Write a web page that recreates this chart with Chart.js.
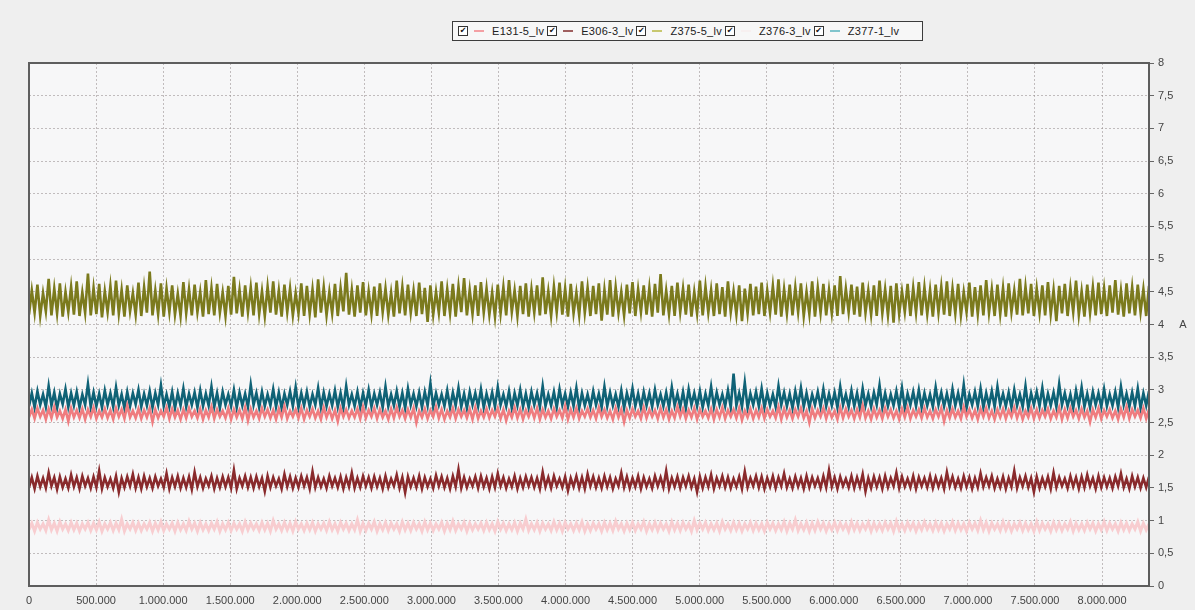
<!DOCTYPE html>
<html><head><meta charset="utf-8">
<script src="https://cdn.jsdelivr.net/npm/chart.js@4/dist/chart.umd.min.js"></script>
<style>
html,body{margin:0;padding:0;background:#efefef;}
#wrap{position:relative;width:1195px;height:610px;overflow:hidden;}
#c{position:absolute;left:0;top:0;}
#legend{position:absolute;left:452px;top:21px;width:464px;height:18px;border:1px solid #3c3c3c;background:#f7f7f7;font:11px "Liberation Sans",Arial,sans-serif;color:#222;display:flex;align-items:center;padding-left:5px;box-sizing:content-box;}
.item{display:flex;align-items:center;margin-right:3px;}
.cb{width:8px;height:8px;border:1px solid #333;background:#fff;font:8px "DejaVu Sans",sans-serif;line-height:8px;text-align:center;color:#111;margin-right:6px;}
.ln{width:10px;height:2px;margin-right:8px;}
.tx{letter-spacing:0.3px;white-space:nowrap;}
</style></head>
<body><div id="wrap"><canvas id="c" width="1195" height="610"></canvas><div id="legend"></div></div>
<script>
// ---- DATA ----
const seriesNames = ['E131-5_lv','E306-3_lv','Z375-5_lv','Z376-3_lv','Z377-1_lv'];
const xMax = 8350000;
const xTickStep = 500000;
const xLastTick = 8000000;
const yMax = 8;
const yTickStep = 0.5;

const e131_5 = [
2.58,2.70,2.56,2.72,2.59,2.69,2.55,2.71,2.57,2.74,2.58,2.68,2.56,2.70,2.52,2.72,2.58,2.69,2.57,2.71,
2.55,2.70,2.59,2.73,2.56,2.68,2.58,2.71,2.57,2.69,2.55,2.72,2.59,2.70,2.56,2.76,2.58,2.68,2.57,2.71,
2.56,2.69,2.58,2.72,2.51,2.70,2.57,2.68,2.59,2.73,2.56,2.71,2.58,2.69,2.55,2.70,2.57,2.72,2.59,2.68,
2.57,2.71,2.55,2.69,2.58,2.74,2.56,2.70,2.59,2.68,2.57,2.72,2.55,2.70,2.58,2.69,2.56,2.73,2.53,2.71,
2.58,2.68,2.56,2.72,2.59,2.70,2.57,2.69,2.55,2.71,2.58,2.75,2.56,2.68,2.59,2.70,2.57,2.72,2.55,2.69,
2.59,2.71,2.57,2.68,2.55,2.73,2.58,2.70,2.56,2.69,2.52,2.72,2.59,2.70,2.57,2.68,2.58,2.71,2.56,2.74,
2.57,2.69,2.59,2.72,2.56,2.70,2.58,2.68,2.55,2.71,2.57,2.73,2.59,2.69,2.56,2.70,2.58,2.72,2.50,2.68,
2.58,2.71,2.56,2.69,2.59,2.74,2.57,2.70,2.55,2.68,2.58,2.72,2.56,2.70,2.59,2.69,2.57,2.71,2.55,2.73,
2.56,2.68,2.58,2.71,2.57,2.69,2.59,2.72,2.56,2.70,2.53,2.68,2.58,2.73,2.57,2.70,2.55,2.69,2.59,2.71,
2.57,2.72,2.55,2.70,2.58,2.68,2.56,2.71,2.59,2.69,2.57,2.75,2.55,2.70,2.58,2.72,2.56,2.68,2.59,2.71,
2.58,2.69,2.56,2.73,2.59,2.70,2.57,2.68,2.55,2.72,2.58,2.70,2.51,2.69,2.57,2.71,2.59,2.68,2.56,2.73,
2.57,2.70,2.59,2.69,2.56,2.72,2.58,2.70,2.55,2.68,2.57,2.74,2.59,2.71,2.56,2.69,2.58,2.72,2.55,2.70,
2.59,2.68,2.57,2.71,2.55,2.70,2.58,2.73,2.56,2.69,2.59,2.70,2.57,2.72,2.54,2.68,2.58,2.71,2.56,2.69,
2.58,2.72,2.56,2.70,2.59,2.68,2.57,2.74,2.55,2.71,2.58,2.69,2.56,2.70,2.59,2.72,2.57,2.68,2.50,2.71,
2.57,2.69,2.59,2.72,2.56,2.70,2.58,2.68,2.55,2.73,2.57,2.71,2.59,2.69,2.56,2.70,2.58,2.76,2.57,2.68,
2.55,2.71,2.58,2.69,2.56,2.72,2.59,2.70,2.57,2.68,2.55,2.71,2.58,2.73,2.56,2.69,2.59,2.70,2.57,2.72,
2.58,2.68,2.56,2.70,2.59,2.72,2.52,2.69,2.57,2.71,2.58,2.68,2.56,2.74,2.59,2.70,2.57,2.69,2.55,2.71,
2.59,2.72,2.57,2.68,2.55,2.70,2.58,2.71,2.56,2.69,2.59,2.73,2.57,2.70,2.55,2.68,2.58,2.72,2.56,2.70,
2.57,2.69,2.59,2.71,2.56,2.68,2.58,2.73,2.55,2.70,2.57,2.72,2.59,2.69,2.56,2.71,2.58,2.68,2.51,2.70,
2.58,2.72,2.56,2.69,2.59,2.70,2.57,2.68,2.55,2.71,2.58,2.74,2.56,2.70,2.59,2.69,2.57,2.72,2.56,2.70];

const e306_3 = [
1.51,1.66,1.49,1.68,1.52,1.65,1.50,1.73,1.53,1.66,1.48,1.67,1.51,1.64,1.50,1.70,1.52,1.66,1.49,1.68,
1.53,1.65,1.50,1.67,1.51,1.76,1.49,1.66,1.52,1.64,1.50,1.68,1.44,1.65,1.51,1.67,1.53,1.71,1.50,1.66,
1.49,1.68,1.52,1.65,1.50,1.67,1.53,1.64,1.51,1.72,1.49,1.66,1.52,1.68,1.50,1.65,1.51,1.67,1.48,1.74,
1.52,1.66,1.50,1.64,1.53,1.68,1.49,1.65,1.51,1.67,1.52,1.66,1.50,1.77,1.49,1.65,1.53,1.68,1.51,1.66,
1.50,1.67,1.52,1.65,1.45,1.68,1.51,1.66,1.53,1.64,1.49,1.71,1.52,1.67,1.50,1.65,1.51,1.68,1.53,1.66,
1.49,1.75,1.51,1.66,1.52,1.64,1.50,1.68,1.53,1.65,1.51,1.67,1.49,1.66,1.52,1.73,1.50,1.65,1.51,1.68,
1.53,1.66,1.50,1.67,1.52,1.65,1.49,1.68,1.51,1.64,1.53,1.70,1.50,1.66,1.43,1.67,1.52,1.65,1.51,1.68,
1.49,1.66,1.52,1.64,1.50,1.69,1.53,1.67,1.51,1.65,1.49,1.68,1.52,1.78,1.50,1.66,1.51,1.64,1.53,1.67,
1.50,1.68,1.52,1.65,1.49,1.67,1.51,1.72,1.53,1.66,1.50,1.64,1.52,1.68,1.49,1.65,1.51,1.67,1.53,1.66,
1.51,1.65,1.49,1.74,1.52,1.66,1.50,1.68,1.53,1.64,1.51,1.67,1.46,1.65,1.52,1.68,1.50,1.66,1.49,1.71,
1.53,1.67,1.51,1.65,1.50,1.68,1.52,1.66,1.49,1.64,1.53,1.73,1.51,1.67,1.50,1.65,1.52,1.68,1.49,1.66,
1.52,1.64,1.50,1.68,1.53,1.66,1.51,1.76,1.49,1.65,1.52,1.67,1.50,1.66,1.53,1.68,1.51,1.64,1.44,1.67,
1.50,1.66,1.52,1.70,1.49,1.65,1.53,1.68,1.51,1.66,1.50,1.64,1.52,1.67,1.49,1.75,1.51,1.65,1.53,1.68,
1.51,1.67,1.49,1.65,1.52,1.68,1.50,1.66,1.53,1.72,1.51,1.64,1.50,1.67,1.52,1.65,1.49,1.68,1.51,1.66,
1.53,1.65,1.50,1.68,1.51,1.77,1.52,1.66,1.49,1.67,1.53,1.64,1.51,1.68,1.50,1.66,1.52,1.71,1.45,1.65,
1.50,1.67,1.52,1.66,1.49,1.68,1.51,1.65,1.53,1.73,1.50,1.67,1.52,1.64,1.51,1.68,1.49,1.66,1.53,1.65,
1.51,1.68,1.50,1.66,1.52,1.65,1.49,1.74,1.53,1.67,1.51,1.64,1.50,1.68,1.52,1.66,1.49,1.65,1.51,1.72,
1.52,1.66,1.53,1.68,1.50,1.64,1.51,1.67,1.49,1.65,1.52,1.76,1.50,1.66,1.53,1.68,1.51,1.65,1.44,1.67,
1.50,1.65,1.52,1.67,1.49,1.73,1.51,1.66,1.53,1.64,1.50,1.68,1.52,1.66,1.49,1.67,1.51,1.70,1.53,1.65,
1.49,1.68,1.51,1.66,1.52,1.65,1.50,1.67,1.53,1.72,1.51,1.64,1.49,1.68,1.52,1.66,1.50,1.65,1.51,1.67];

const z375_5 = [
4.15,4.52,4.18,4.61,4.13,4.48,4.20,4.70,4.14,4.55,4.17,4.63,4.12,4.50,4.19,4.58,4.15,4.66,4.13,4.49,
4.18,4.78,4.14,4.56,4.16,4.62,4.11,4.51,4.19,4.59,4.14,4.67,4.17,4.53,4.12,4.60,4.20,4.48,4.15,4.64,
4.13,4.57,4.18,4.81,4.14,4.52,4.16,4.63,4.12,4.55,4.19,4.60,4.15,4.47,4.13,4.65,4.17,4.54,4.14,4.61,
4.19,4.50,4.12,4.68,4.16,4.56,4.14,4.62,4.18,4.49,4.13,4.59,4.15,4.73,4.17,4.53,4.12,4.60,4.19,4.57,
4.14,4.64,4.16,4.51,4.13,4.58,4.18,4.66,4.15,4.52,4.12,4.61,4.19,4.55,4.14,4.48,4.17,4.63,4.13,4.59,
4.16,4.54,4.11,4.69,4.18,4.57,4.14,4.50,4.17,4.62,4.13,4.56,4.20,4.79,4.15,4.53,4.12,4.60,4.18,4.65,
4.14,4.51,4.16,4.58,4.13,4.63,4.19,4.55,4.15,4.49,4.12,4.67,4.17,4.57,4.14,4.61,4.18,4.52,4.13,4.64,
4.16,4.56,4.04,4.60,4.15,4.50,4.18,4.66,4.13,4.54,4.17,4.62,4.12,4.58,4.19,4.71,4.14,4.53,4.16,4.60,
4.13,4.65,4.18,4.55,4.15,4.49,4.12,4.61,4.17,4.57,4.14,4.68,4.19,4.52,4.13,4.59,4.16,4.63,4.12,4.54,
4.18,4.60,4.14,4.72,4.16,4.51,4.13,4.58,4.19,4.64,4.15,4.55,4.12,4.62,4.17,4.49,4.14,4.66,4.18,4.56,
4.13,4.59,4.16,4.63,4.06,4.53,4.15,4.68,4.12,4.57,4.18,4.50,4.14,4.61,4.17,4.65,4.13,4.54,4.19,4.60,
4.15,4.56,4.12,4.62,4.18,4.77,4.14,4.52,4.16,4.59,4.13,4.64,4.19,4.55,4.15,4.61,4.12,4.50,4.17,4.67,
4.14,4.58,4.18,4.53,4.13,4.63,4.16,4.57,4.12,4.66,4.19,4.51,4.15,4.60,4.05,4.55,4.17,4.62,4.14,4.58,
4.16,4.64,4.13,4.52,4.18,4.59,4.15,4.69,4.12,4.54,4.17,4.61,4.14,4.57,4.19,4.63,4.13,4.50,4.16,4.66,
4.12,4.56,4.18,4.62,4.14,4.53,4.17,4.60,4.13,4.74,4.16,4.55,4.19,4.61,4.15,4.58,4.12,4.64,4.18,4.52,
4.15,4.60,4.13,4.67,4.17,4.54,4.14,4.59,4.03,4.63,4.16,4.51,4.19,4.62,4.13,4.56,4.18,4.65,4.14,4.57,
4.16,4.53,4.12,4.61,4.18,4.58,4.15,4.66,4.13,4.55,4.17,4.62,4.14,4.50,4.19,4.64,4.12,4.57,4.16,4.60,
4.14,4.68,4.18,4.54,4.13,4.61,4.16,4.56,4.12,4.63,4.19,4.52,4.15,4.70,4.14,4.58,4.17,4.62,4.13,4.55,
4.18,4.60,4.14,4.65,4.16,4.53,4.05,4.59,4.17,4.62,4.13,4.56,4.19,4.67,4.15,4.51,4.12,4.61,4.18,4.57,
4.14,4.64,4.16,4.55,4.13,4.60,4.18,4.68,4.15,4.52,4.12,4.63,4.17,4.57,4.14,4.61,4.19,4.54,4.13,4.59];

const z376_3 = [
0.86,0.96,0.84,0.97,0.87,0.95,0.85,1.01,0.86,0.96,0.84,0.98,0.87,0.95,0.85,0.97,0.86,0.96,0.84,0.95,
0.87,0.97,0.85,0.96,0.86,0.98,0.84,0.95,0.87,0.97,0.85,0.96,0.86,1.02,0.84,0.95,0.87,0.97,0.85,0.96,
0.85,0.95,0.87,0.97,0.84,0.96,0.86,0.98,0.85,0.95,0.87,0.96,0.84,0.97,0.86,0.95,0.85,0.99,0.87,0.96,
0.84,0.97,0.86,0.95,0.85,0.96,0.87,0.98,0.84,0.95,0.86,0.97,0.85,0.96,0.87,0.95,0.84,0.98,0.86,0.96,
0.87,0.95,0.85,0.97,0.86,0.96,0.84,1.00,0.87,0.95,0.85,0.97,0.86,0.96,0.84,0.98,0.87,0.95,0.85,0.96,
0.86,0.97,0.84,0.95,0.87,0.96,0.85,0.98,0.86,0.95,0.84,0.97,0.87,0.96,0.85,0.95,0.86,1.01,0.84,0.96,
0.85,0.96,0.87,0.98,0.84,0.95,0.86,0.97,0.85,0.96,0.87,0.95,0.84,0.98,0.86,0.96,0.85,0.97,0.87,0.95,
0.84,0.98,0.86,0.96,0.85,0.95,0.87,0.97,0.84,0.96,0.86,0.99,0.85,0.95,0.87,0.97,0.84,0.96,0.86,0.95,
0.87,0.96,0.85,0.97,0.86,0.95,0.84,0.98,0.87,0.96,0.85,0.95,0.86,0.97,0.84,0.96,0.87,1.02,0.85,0.95,
0.86,0.97,0.84,0.96,0.87,0.95,0.85,0.98,0.86,0.96,0.84,0.97,0.87,0.95,0.85,0.96,0.86,0.98,0.84,0.95,
0.85,0.96,0.87,0.95,0.84,0.97,0.86,0.96,0.85,0.99,0.87,0.95,0.84,0.96,0.86,0.97,0.85,0.95,0.87,0.98,
0.84,0.95,0.86,0.97,0.85,0.96,0.87,0.95,0.84,0.98,0.86,0.96,0.85,0.97,0.87,0.95,0.84,1.00,0.86,0.96,
0.87,0.97,0.85,0.95,0.86,0.96,0.84,0.98,0.87,0.95,0.85,0.97,0.86,0.96,0.84,0.95,0.87,0.97,0.85,0.96,
0.86,0.95,0.84,0.97,0.87,0.96,0.85,0.95,0.86,0.98,0.84,0.96,0.87,1.01,0.85,0.95,0.86,0.97,0.84,0.96,
0.85,0.98,0.87,0.96,0.84,0.95,0.86,0.97,0.85,0.96,0.87,0.95,0.84,0.98,0.86,0.96,0.85,0.95,0.87,0.97,
0.84,0.96,0.86,0.95,0.85,0.97,0.87,0.96,0.84,0.99,0.86,0.95,0.85,0.97,0.87,0.96,0.84,0.95,0.86,0.98,
0.87,0.95,0.85,0.97,0.86,0.96,0.84,0.95,0.87,0.98,0.85,0.96,0.86,0.95,0.84,0.97,0.87,0.96,0.85,1.00,
0.86,0.97,0.84,0.96,0.87,0.95,0.85,0.98,0.86,0.96,0.84,0.95,0.87,0.97,0.85,0.96,0.86,0.95,0.84,0.98,
0.85,0.96,0.87,0.95,0.84,0.97,0.86,0.96,0.85,0.95,0.87,0.98,0.84,0.96,0.86,0.95,0.85,0.97,0.87,0.96,
0.84,0.95,0.86,0.98,0.85,0.96,0.87,0.95,0.84,0.97,0.86,0.96,0.85,0.95,0.87,0.98,0.84,0.96,0.86,0.95];

const z377_1 = [
2.75,2.95,2.73,2.98,2.77,2.93,2.74,3.06,2.76,2.96,2.72,2.94,2.78,3.01,2.74,2.95,2.76,2.97,2.73,2.93,
2.77,3.09,2.74,2.96,2.75,2.94,2.73,2.99,2.77,2.95,2.74,3.04,2.76,2.93,2.72,2.97,2.75,2.95,2.78,3.00,
2.74,2.94,2.76,2.98,2.73,2.95,2.77,3.07,2.75,2.93,2.74,2.97,2.72,2.95,2.76,3.02,2.74,2.94,2.77,2.96,
2.73,2.99,2.75,2.94,2.76,3.05,2.74,2.95,2.72,2.97,2.77,2.93,2.75,3.00,2.73,2.96,2.76,2.94,2.74,3.08,
2.77,2.95,2.73,2.97,2.75,2.93,2.76,3.01,2.74,2.96,2.72,2.94,2.77,2.98,2.75,3.04,2.73,2.95,2.76,2.97,
2.74,2.93,2.77,3.03,2.73,2.96,2.75,2.94,2.76,2.99,2.74,2.95,2.72,3.06,2.77,2.93,2.75,2.97,2.73,2.95,
2.76,3.00,2.74,2.94,2.77,2.96,2.73,3.05,2.75,2.93,2.76,2.98,2.74,2.95,2.72,3.02,2.77,2.94,2.75,2.96,
2.73,2.97,2.76,3.10,2.74,2.95,2.77,2.93,2.75,2.99,2.73,2.96,2.76,3.03,2.74,2.94,2.72,2.97,2.77,2.95,
2.75,3.01,2.73,2.94,2.76,2.96,2.74,3.04,2.77,2.93,2.75,2.98,2.72,2.95,2.76,3.00,2.74,2.94,2.73,2.97,
2.77,2.95,2.74,3.06,2.75,2.93,2.76,2.97,2.73,3.01,2.77,2.94,2.74,2.96,2.75,3.03,2.72,2.95,2.76,2.93,
2.74,2.98,2.77,2.94,2.73,3.05,2.75,2.96,2.76,2.93,2.74,2.99,2.72,2.95,2.77,3.02,2.75,2.94,2.73,2.97,
2.76,2.95,2.74,3.00,2.77,2.93,2.75,2.96,2.73,3.04,2.76,2.94,2.74,2.97,2.72,3.01,2.77,2.95,2.75,2.98,
2.73,2.94,2.76,3.05,2.74,2.96,2.77,2.93,2.75,2.99,2.73,3.25,2.76,2.95,2.74,3.11,2.72,2.94,2.77,2.97,
2.75,3.02,2.73,2.95,2.76,2.93,2.74,3.06,2.77,2.96,2.75,2.94,2.72,2.98,2.76,3.03,2.74,2.95,2.73,2.93,
2.77,2.97,2.74,3.01,2.75,2.94,2.76,2.96,2.73,3.05,2.77,2.93,2.74,2.99,2.75,2.95,2.72,3.02,2.76,2.94,
2.74,2.96,2.77,3.07,2.73,2.95,2.75,2.93,2.76,2.98,2.74,3.03,2.72,2.94,2.77,2.97,2.75,3.00,2.73,2.95,
2.76,2.93,2.74,3.04,2.77,2.96,2.75,2.94,2.73,3.01,2.76,2.95,2.74,3.08,2.72,2.93,2.77,2.97,2.75,3.02,
2.73,2.95,2.76,2.98,2.74,3.05,2.77,2.94,2.75,2.96,2.73,3.00,2.76,2.93,2.74,3.06,2.72,2.95,2.77,2.97,
2.75,3.03,2.73,2.94,2.76,2.96,2.74,3.09,2.77,2.95,2.75,2.93,2.72,2.99,2.76,3.04,2.74,2.94,2.73,2.97,
2.77,2.95,2.74,3.01,2.75,2.93,2.76,2.97,2.73,3.05,2.77,2.94,2.74,2.96,2.75,3.02,2.72,2.95,2.76,2.98];

// ---- STYLE ----
const colors = {
  'E131-5_lv':'#ef7c7f',
  'E306-3_lv':'#892a2c',
  'Z375-5_lv':'#7b7a1d',
  'Z376-3_lv':'#f8cdd0',
  'Z377-1_lv':'#0f6276'
};
const lineWidths = {'E131-5_lv':2.6,'E306-3_lv':2.6,'Z375-5_lv':2.6,'Z376-3_lv':3,'Z377-1_lv':2.6};
const legendLineColors = {
  'E131-5_lv':'#f4a0a4','E306-3_lv':'#a06060','Z375-5_lv':'#c8c870','Z376-3_lv':'#f7f0f0','Z377-1_lv':'#80c4cc'
};
const drawOrder = {'E131-5_lv':1,'Z377-1_lv':2,'Z375-5_lv':3,'E306-3_lv':4,'Z376-3_lv':5};
const valuesByName = {'E131-5_lv':e131_5,'E306-3_lv':e306_3,'Z375-5_lv':z375_5,'Z376-3_lv':z376_3,'Z377-1_lv':z377_1};

function toPoints(vals){
  const step = xMax/(vals.length-1);
  return vals.map((v,i)=>({x:i*step,y:v}));
}
const fmt = v => Number(v).toLocaleString('de-DE');

// legend (HTML)
const lg = document.getElementById('legend');
seriesNames.forEach(n=>{
  const it=document.createElement('div'); it.className='item';
  it.innerHTML='<span class="cb">\u2714</span><span class="ln" style="background:'+legendLineColors[n]+'"></span><span class="tx">'+n+'</span>';
  lg.appendChild(it);
});

const frame = {
  id:'frame',
  beforeDraw(chart){
    const {ctx, chartArea:a} = chart;
    ctx.save(); ctx.fillStyle='#f7f7f8'; ctx.fillRect(a.left,a.top,a.right-a.left,a.bottom-a.top); ctx.restore();
  },
  afterDraw(chart){
    const {ctx, chartArea:a} = chart;
    ctx.save();
    ctx.strokeStyle='#5e5e5e'; ctx.lineWidth=2;
    ctx.strokeRect(a.left,a.top,a.right-a.left,a.bottom-a.top);
    ctx.fillStyle='#444'; ctx.font='11px "Liberation Sans", Arial, sans-serif';
    ctx.textAlign='center'; ctx.textBaseline='middle';
    ctx.fillText('A', 1183, chart.scales.y.getPixelForValue(4));
    ctx.restore();
  }
};

new Chart(document.getElementById('c'), {
  type:'line',
  data:{datasets: seriesNames.map(n=>({
    label:n, data:toPoints(valuesByName[n]), borderColor:colors[n], backgroundColor:colors[n],
    borderWidth:lineWidths[n], pointRadius:0, tension:0, fill:false, order:drawOrder[n],
    borderJoinStyle:'miter'
  }))},
  options:{
    responsive:false, animation:false, events:[],
    layout:{padding:{left:29,top:63,right:0,bottom:0}},
    plugins:{legend:{display:false}, tooltip:{enabled:false}},
    scales:{
      x:{type:'linear', min:0, max:xMax,
        afterBuildTicks:s=>{ const t=[]; for(let v=0; v<=xLastTick; v+=xTickStep) t.push({value:v}); s.ticks=t; },
        afterFit:s=>{ s.height = 24; },
        ticks:{autoSkip:false, maxRotation:0, padding:8, color:'#444', callback:fmt, font:{family:'"Liberation Sans", Arial, sans-serif', size:11}},
        grid:{color:'rgba(150,140,140,0.55)', lineWidth:1, drawTicks:false},
        border:{display:false, dash:[2,2]}
      },
      y:{position:'right', min:0, max:yMax,
        afterFit:s=>{ s.width = 46; },
        ticks:{stepSize:yTickStep, padding:4, color:'#444', callback:fmt, font:{family:'"Liberation Sans", Arial, sans-serif', size:11}},
        grid:{color:'rgba(150,140,140,0.55)', lineWidth:1, drawTicks:true, tickLength:5, tickColor:'#666', tickBorderDash:[]},
        border:{display:false, dash:[2,2]}
      }
    }
  },
  plugins:[frame]
});
</script></body></html>
